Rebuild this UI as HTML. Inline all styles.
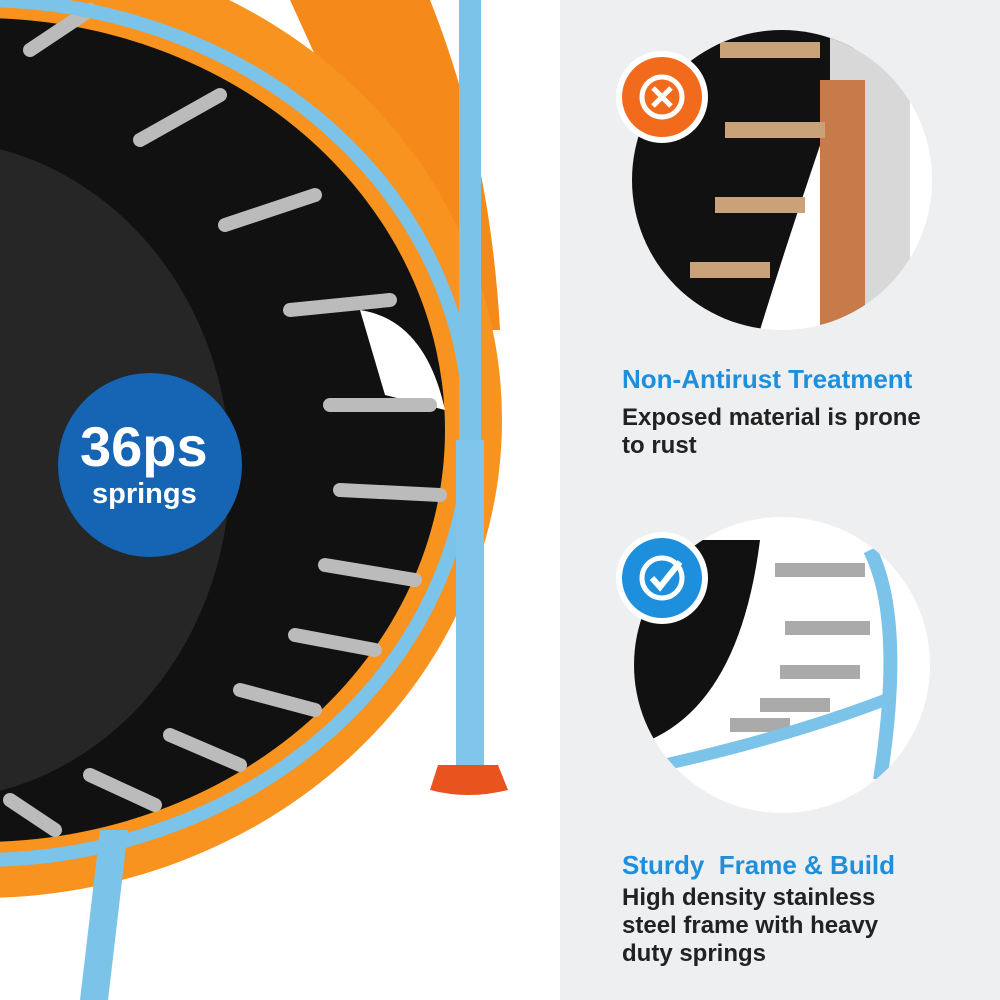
<!DOCTYPE html>
<html><head><meta charset="utf-8"><style>
html,body{margin:0;padding:0;width:1000px;height:1000px;overflow:hidden;background:#fff;font-family:"Liberation Sans",sans-serif}
.t{position:absolute;font-weight:bold;white-space:nowrap}
.h{color:#1e8fdc;font-size:26px;left:622px}
.p{color:#222;font-size:24px;left:622px;line-height:28px}
</style></head><body>
<svg width="1000" height="1000" style="position:absolute;left:0;top:0">
<defs>
<clipPath id="c1"><circle cx="782" cy="180" r="150"/></clipPath>
<clipPath id="c2"><circle cx="782" cy="665" r="148"/></clipPath>
</defs>
<rect x="0" y="0" width="560" height="1000" fill="#fff"/>
<rect x="560" y="0" width="440" height="1000" fill="#eeeff1"/>
<!-- orange cover -->
<path d="M290 0 L430 0 Q490 150 500 330 L440 330 Z" fill="#f58a1a"/>
<ellipse cx="-20" cy="420" rx="522" ry="478" fill="#f7931e"/>
<!-- black mat -->
<ellipse cx="-20" cy="430" rx="465" ry="412" fill="#111"/>
<path d="M360 310 Q425 320 445 410 L385 395 Z" fill="#fff"/>
<ellipse cx="-70" cy="470" rx="300" ry="330" fill="#262626"/>
<!-- springs -->
<g stroke="#bbb" stroke-width="14" stroke-linecap="round">
<line x1="30" y1="50" x2="90" y2="10"/>
<line x1="140" y1="140" x2="220" y2="95"/>
<line x1="225" y1="225" x2="315" y2="195"/>
<line x1="290" y1="310" x2="390" y2="300"/>
<line x1="330" y1="405" x2="430" y2="405"/>
<line x1="340" y1="490" x2="440" y2="495"/>
<line x1="325" y1="565" x2="415" y2="580"/>
<line x1="295" y1="635" x2="375" y2="650"/>
<line x1="240" y1="690" x2="315" y2="710"/>
<line x1="170" y1="735" x2="240" y2="765"/>
<line x1="90" y1="775" x2="155" y2="805"/>
<line x1="10" y1="800" x2="55" y2="830"/>
</g>
<!-- frame -->
<ellipse cx="-20" cy="430" rx="490" ry="430" fill="none" stroke="#7cc3ea" stroke-width="14"/>
<rect x="459" y="0" width="22" height="440" fill="#7cc3ea"/>
<rect x="456" y="440" width="28" height="330" fill="#80c6ec"/>
<path d="M438 765 L498 765 L508 790 Q468 800 430 790 Z" fill="#e8531e"/>
<polygon points="100,830 128,830 108,1000 80,1000" fill="#7cc3ea"/>
<!-- badge -->
<circle cx="150" cy="465" r="92" fill="#1565b4"/>
<!-- right circles -->
<circle cx="782" cy="180" r="150" fill="#fff"/>
<g clip-path="url(#c1)">
<path d="M632 30 L860 30 Q800 200 760 330 L632 330 Z" fill="#111"/>
<rect x="830" y="30" width="80" height="300" fill="#d8d8d8"/>
<rect x="820" y="80" width="45" height="260" fill="#c77a4a"/>
<g stroke="#c9a27a" stroke-width="16"><line x1="720" y1="50" x2="820" y2="50"/><line x1="725" y1="130" x2="825" y2="130"/><line x1="715" y1="205" x2="805" y2="205"/><line x1="690" y1="270" x2="770" y2="270"/></g>
</g>
<circle cx="782" cy="665" r="148" fill="#fff"/>
<g clip-path="url(#c2)">
<path d="M634 540 L760 540 Q740 700 650 740 L634 740 Z" fill="#111"/>
<g stroke="#aaa" stroke-width="14"><line x1="775" y1="570" x2="865" y2="570"/><line x1="785" y1="628" x2="870" y2="628"/><line x1="780" y1="672" x2="860" y2="672"/><line x1="760" y1="705" x2="830" y2="705"/><line x1="730" y1="725" x2="790" y2="725"/></g>
<path d="M870 550 Q905 620 880 780" fill="none" stroke="#7cc3ea" stroke-width="14"/>
<path d="M640 770 Q780 740 885 700" fill="none" stroke="#7cc3ea" stroke-width="12"/>
</g>
<!-- icons -->
<circle cx="662" cy="97" r="46" fill="#fff"/>
<circle cx="662" cy="97" r="40" fill="#f26a1b"/>
<circle cx="662" cy="97" r="20" fill="none" stroke="#fff" stroke-width="5"/>
<path d="M653 88 L671 106 M671 88 L653 106" stroke="#fff" stroke-width="5"/>
<circle cx="662" cy="578" r="46" fill="#fff"/>
<circle cx="662" cy="578" r="40" fill="#1e8fdc"/>
<circle cx="662" cy="578" r="20" fill="none" stroke="#fff" stroke-width="5"/>
<path d="M652 578 L660 587 L680 562" fill="none" stroke="#fff" stroke-width="6"/>
</svg>
<div class="t" style="left:80px;top:414px;color:#fff;font-size:56px">36ps</div>
<div class="t" style="left:92px;top:478px;color:#fff;font-size:29px">springs</div>
<div class="t h" style="top:364px">Non-Antirust Treatment</div>
<div class="t p" style="top:404px">Exposed material is prone<br>to rust</div>
<div class="t h" style="top:850px">Sturdy&nbsp; Frame &amp; Build</div>
<div class="t p" style="top:884px">High density stainless<br>steel frame with heavy<br>duty springs</div>
</body></html>
